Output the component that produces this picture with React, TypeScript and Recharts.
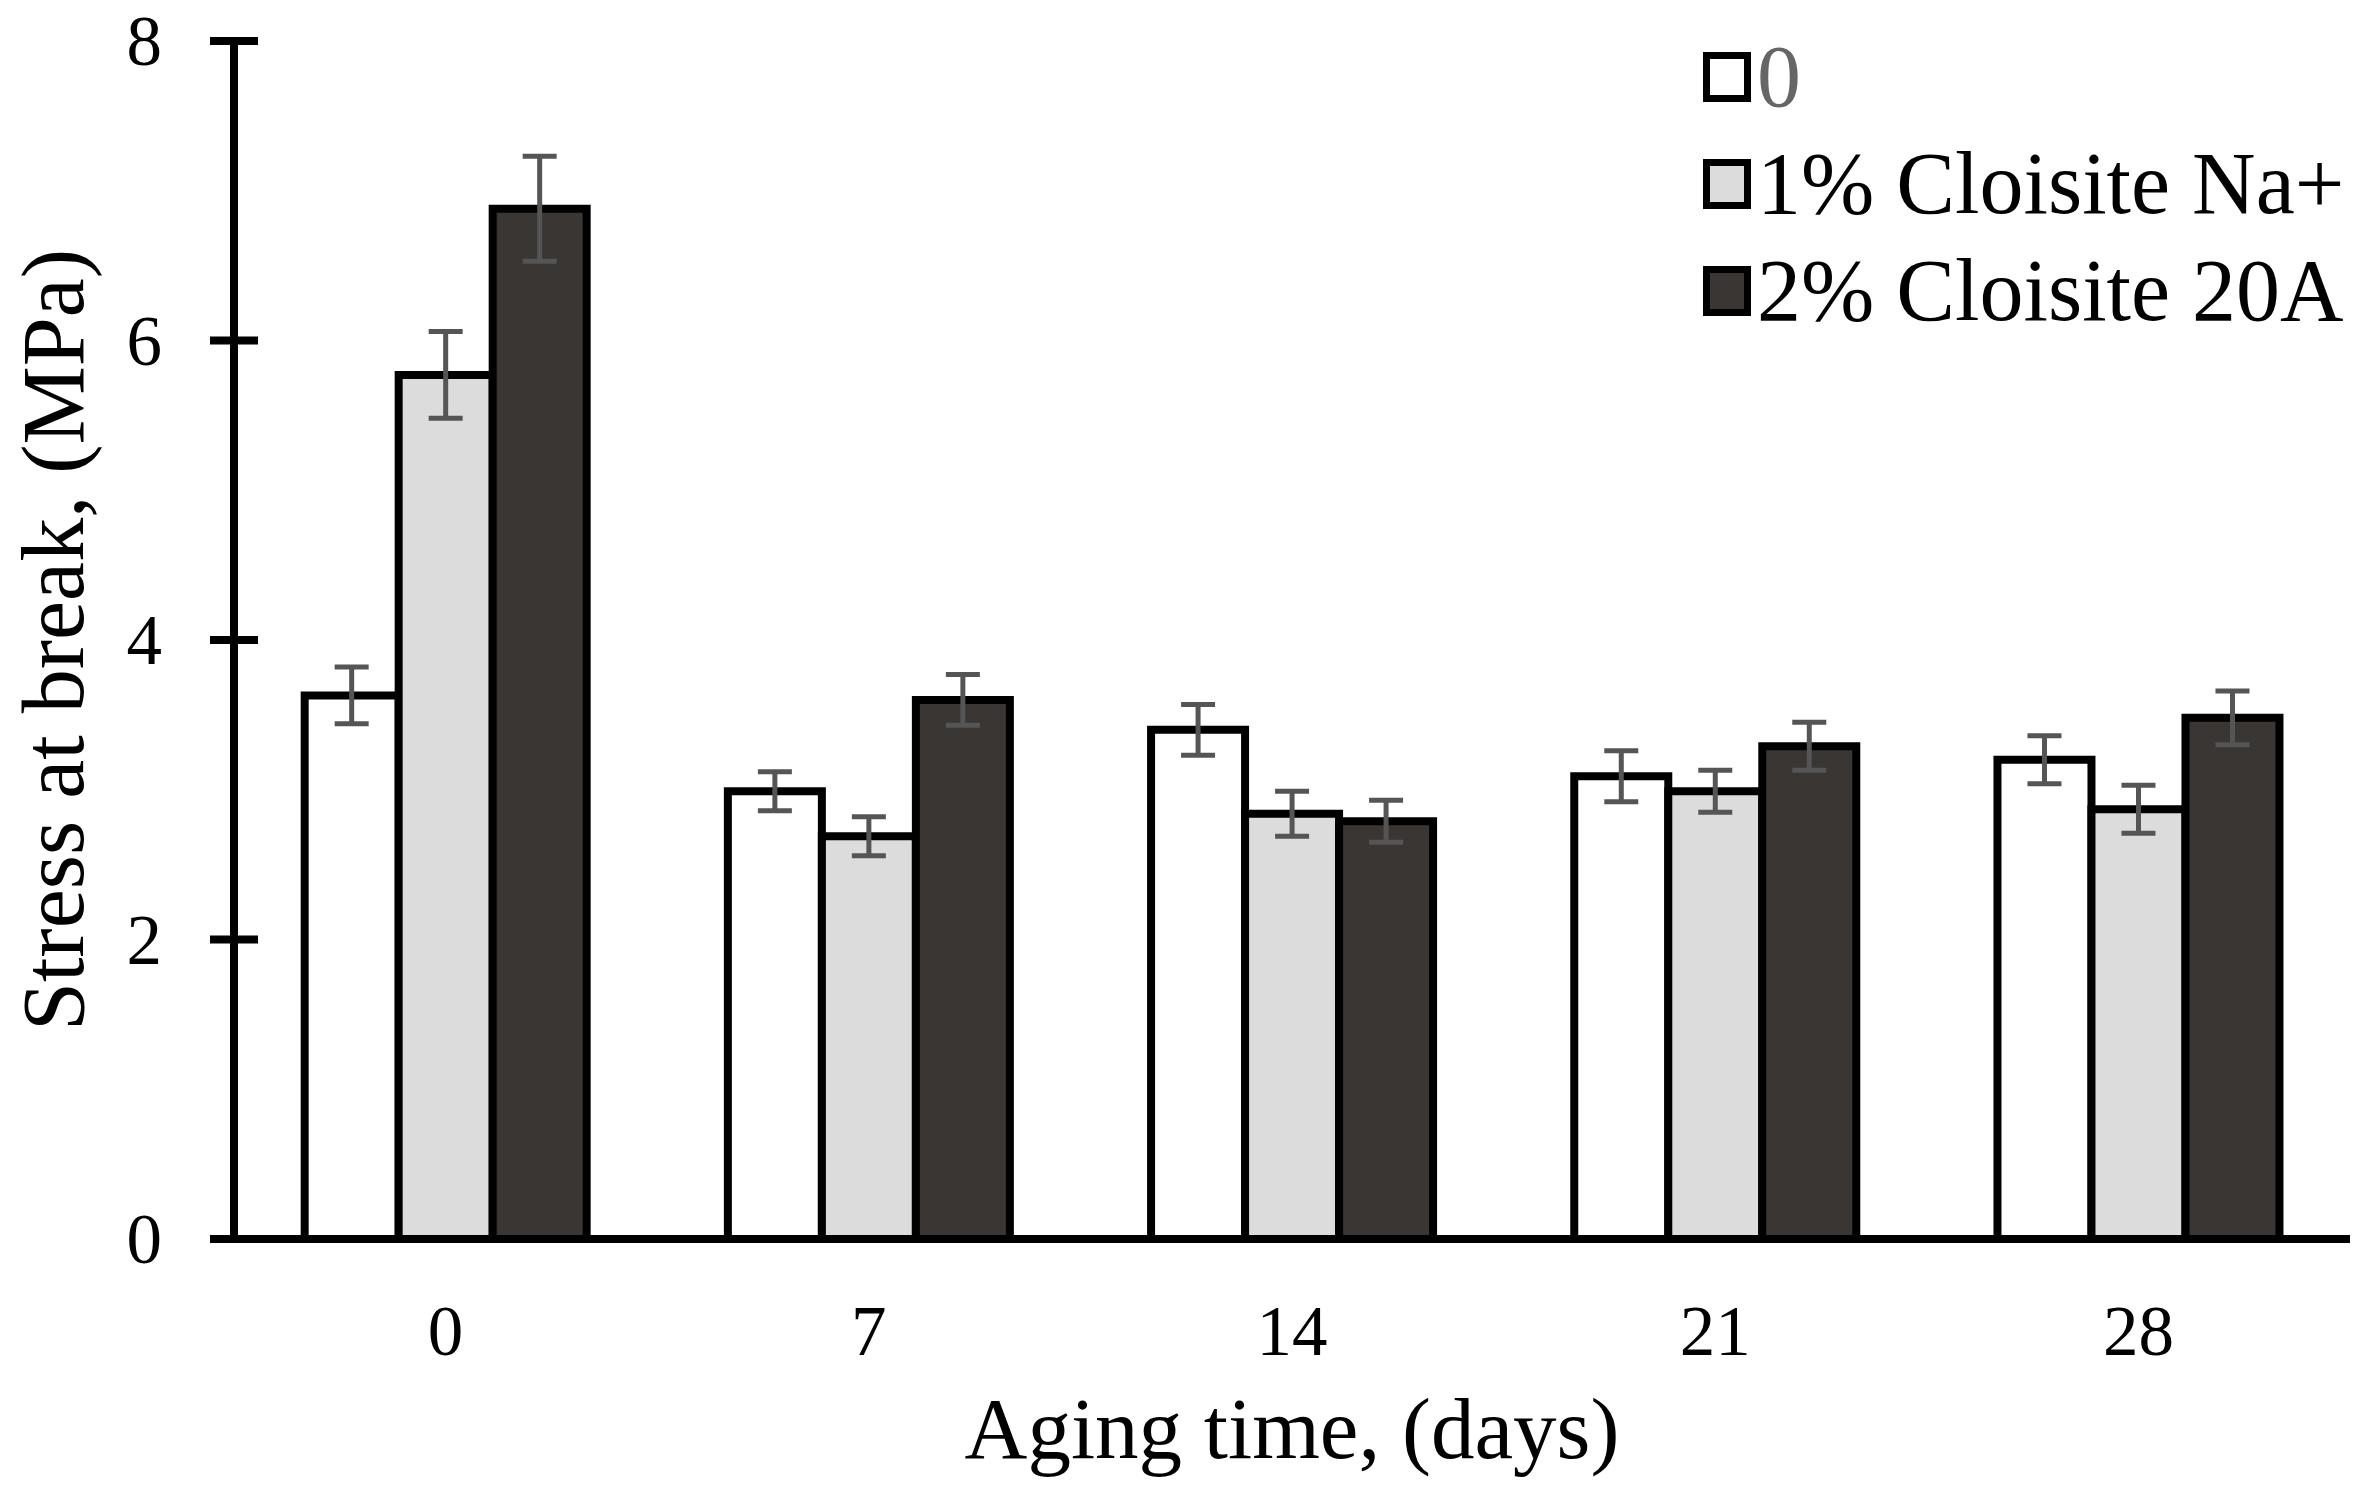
import React from "react";
import { BarChart, Bar, XAxis, YAxis, ErrorBar, Legend } from "recharts";

if (typeof document !== "undefined") {
    document.body.style.margin = "0";
}

// aging time categories (days)
const categories = ["0", "7", "14", "21", "28"];

// stress at break, MPa
const neat = [3.63, 2.99, 3.4, 3.09, 3.2];
const neatErr = [0.19, 0.13, 0.17, 0.17, 0.16];
const naPlus = [5.77, 2.69, 2.84, 2.99, 2.87];
const naPlusErr = [0.29, 0.13, 0.15, 0.14, 0.16];
const c20A = [6.88, 3.6, 2.79, 3.29, 3.48];
const c20AErr = [0.35, 0.17, 0.14, 0.16, 0.18];

const yTicks = [0, 2, 4, 6, 8];

const seriesNames = ["0", "1% Cloisite Na+", "2% Cloisite 20A"];
const COLORS = ["#ffffff", "#dcdcdc", "#3a3634"];

const FONT = "'Liberation Serif', 'Times New Roman', serif";

const chartData = categories.map((day, i) => ({
    day,
    neat: neat[i],
    neatErr: neatErr[i],
    naPlus: naPlus[i],
    naPlusErr: naPlusErr[i],
    c20A: c20A[i],
    c20AErr: c20AErr[i],
}));

// y ticks cross the axis line
const YTick = ({ x, y, payload }: any) => (
    <g>
        <line x1={x - 24} x2={x + 24} y1={y} y2={y} stroke="#000" strokeWidth={8} />
        <text x={x - 72} y={y} dy={24} textAnchor="end" fontFamily={FONT} fontSize={71} fill="#000">
            {payload.value}
        </text>
    </g>
);

const XTick = ({ x, y, payload }: any) => (
    <text x={x} y={y + 116} textAnchor="middle" fontFamily={FONT} fontSize={71} fill="#000">
        {payload.value}
    </text>
);

const LegendContent = () => (
    <div style={{ fontFamily: FONT, fontSize: 88 }}>
        {seriesNames.map((name, i) => (
            <div key={name} style={{ display: "flex", alignItems: "center", height: 107, lineHeight: "107px" }}>
                <div
                    style={{
                        width: 34,
                        height: 36,
                        border: "7px solid #000",
                        background: COLORS[i],
                        marginRight: 6,
                    }}
                />
                <span style={{ color: i === 0 ? "#666" : "#000", whiteSpace: "nowrap" }}>{name}</span>
            </div>
        ))}
    </div>
);

const App: React.FC = () => {
    return (
        <div style={{ width: 2370, height: 1495, background: "#fff" }}>
            <BarChart
                width={2370}
                height={1495}
                data={chartData}
                margin={{ top: 41, right: 20, left: 0, bottom: 0 }}
                barCategoryGap="16.7%"
                barGap={0}
            >
                <XAxis
                    dataKey="day"
                    height={256}
                    axisLine={{ stroke: "#000", strokeWidth: 8 }}
                    tickLine={false}
                    tickSize={0}
                    tickMargin={0}
                    tick={<XTick />}
                    label={{
                        value: "Aging time, (days)",
                        position: "insideBottom",
                        offset: 37,
                        style: { fontFamily: FONT, fontSize: 87, fill: "#000" },
                    }}
                />
                <YAxis
                    width={234}
                    domain={[0, 8]}
                    ticks={yTicks}
                    axisLine={{ stroke: "#000", strokeWidth: 8 }}
                    tickLine={false}
                    tickSize={0}
                    tickMargin={0}
                    tick={<YTick />}
                    label={{
                        value: "Stress at break, (MPa)",
                        angle: -90,
                        position: "insideLeft",
                        offset: 52,
                        style: { fontFamily: FONT, fontSize: 88, fill: "#000", textAnchor: "middle" },
                    }}
                />
                <Legend
                    layout="vertical"
                    verticalAlign="middle"
                    align="center"
                    content={<LegendContent />}
                    wrapperStyle={{ top: 23, left: 1703, width: 660 }}
                />
                <Bar dataKey="neat" name={seriesNames[0]} fill={COLORS[0]} stroke="#000" strokeWidth={8} isAnimationActive={false}>
                    <ErrorBar dataKey="neatErr" width={17} stroke="#555" strokeWidth={5} />
                </Bar>
                <Bar dataKey="naPlus" name={seriesNames[1]} fill={COLORS[1]} stroke="#000" strokeWidth={8} isAnimationActive={false}>
                    <ErrorBar dataKey="naPlusErr" width={17} stroke="#555" strokeWidth={5} />
                </Bar>
                <Bar dataKey="c20A" name={seriesNames[2]} fill={COLORS[2]} stroke="#000" strokeWidth={8} isAnimationActive={false}>
                    <ErrorBar dataKey="c20AErr" width={17} stroke="#555" strokeWidth={5} />
                </Bar>
            </BarChart>
        </div>
    );
};

export default App;
